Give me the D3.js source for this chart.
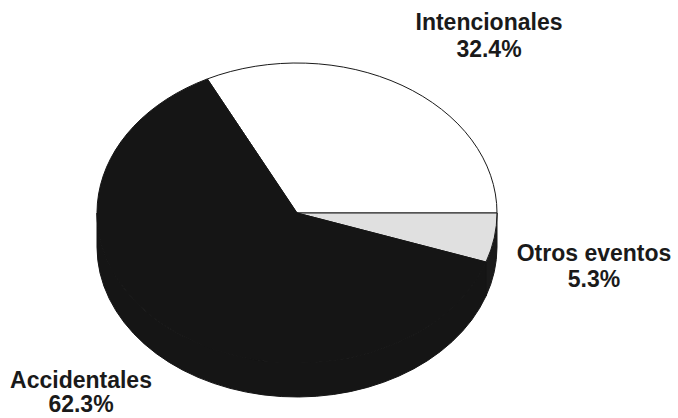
<!DOCTYPE html>
<html lang="es">
<head>
  <meta charset="UTF-8">
  <title>Distribución por tipo de evento</title>
  <script src="https://cdn.jsdelivr.net/npm/d3@7"></script>
  <style>
    body { margin: 0; background: #fff; }
    .label {
      font: bold 23px "Liberation Sans", Arial, sans-serif;
      fill: #1a1a1a;
      text-anchor: middle;
    }
  </style>
</head>
<body>
  <svg id="chart" width="678" height="418"></svg>
  <script>
    // datos
    const categories = ['Intencionales', 'Otros eventos', 'Accidentales'];
    const values     = [32.4, 5.3, 62.3];
    const pctLabels  = ['32.4%', '5.3%', '62.3%'];

    const cx = 297, cy = 213;
    const rx = 200, ry = 150;   // pastel inclinado (elipse)
    const depth = 34;           // grosor del pastel
    const k = ry / rx;

    const topColor    = { 'Intencionales': '#ffffff', 'Otros eventos': '#e0e0e0', 'Accidentales': '#151515' };
    const strokeColor = { 'Intencionales': '#1a1a1a', 'Otros eventos': '#1a1a1a', 'Accidentales': '#151515' };
    const sideColor   = { 'Intencionales': '#d0d0d0', 'Otros eventos': '#1a1a1a', 'Accidentales': '#151515' };
    // posiciones de etiqueta (centro del texto, línea base de la 1a línea, salto)
    const labelPos    = { 'Intencionales': [489, 30, 27], 'Otros eventos': [594, 261, 26], 'Accidentales': [81, 388, 24] };

    const data = categories.map((c, i) => ({ name: c, value: values[i], pct: pctLabels[i] }));

    const start = Math.PI / 2 - 2 * Math.PI * values[0] / d3.sum(values);
    const pie = d3.pie().sort(null).value(d => d.value)
      .startAngle(start).endAngle(start + 2 * Math.PI);
    const arcs = pie(data);

    const svg = d3.select('#chart');

    // el pastel se dibuja en espacio circular y luego se aplasta en y
    const g = svg.append('g')
      .attr('transform', `translate(${cx},${cy}) scale(1,${k})`);

    // paredes laterales (solo la mitad frontal es visible)
    const D = depth / k;
    arcs.forEach(a => {
      const a0 = Math.max(a.startAngle, Math.PI / 2);
      const a1 = Math.min(a.endAngle, 3 * Math.PI / 2);
      if (a1 <= a0) return;
      const m0 = a0 - Math.PI / 2, m1 = a1 - Math.PI / 2;
      const p = d3.path();
      p.moveTo(rx * Math.cos(m0), rx * Math.sin(m0));
      p.arc(0, 0, rx, m0, m1, false);
      p.lineTo(rx * Math.cos(m1), rx * Math.sin(m1) + D);
      p.arc(0, D, rx, m1, m0, true);
      p.closePath();
      g.append('path')
        .attr('d', p.toString())
        .attr('fill', sideColor[a.data.name])
        .attr('stroke', sideColor[a.data.name])
        .attr('stroke-width', 1)
        .attr('vector-effect', 'non-scaling-stroke');
    });

    // cara superior
    const arc = d3.arc().innerRadius(0).outerRadius(rx);
    g.selectAll('path.slice')
      .data(arcs)
      .join('path')
        .attr('class', 'slice')
        .attr('d', arc)
        .attr('fill', d => topColor[d.data.name])
        .attr('stroke', d => strokeColor[d.data.name])
        .attr('stroke-width', 1)
        .attr('vector-effect', 'non-scaling-stroke');

    // etiquetas
    data.forEach(d => {
      const [x, y, dy] = labelPos[d.name];
      const t = svg.append('text').attr('class', 'label').attr('x', x).attr('y', y);
      t.append('tspan').attr('x', x).text(d.name);
      t.append('tspan').attr('x', x).attr('dy', dy).text(d.pct);
    });
  </script>
</body>
</html>
